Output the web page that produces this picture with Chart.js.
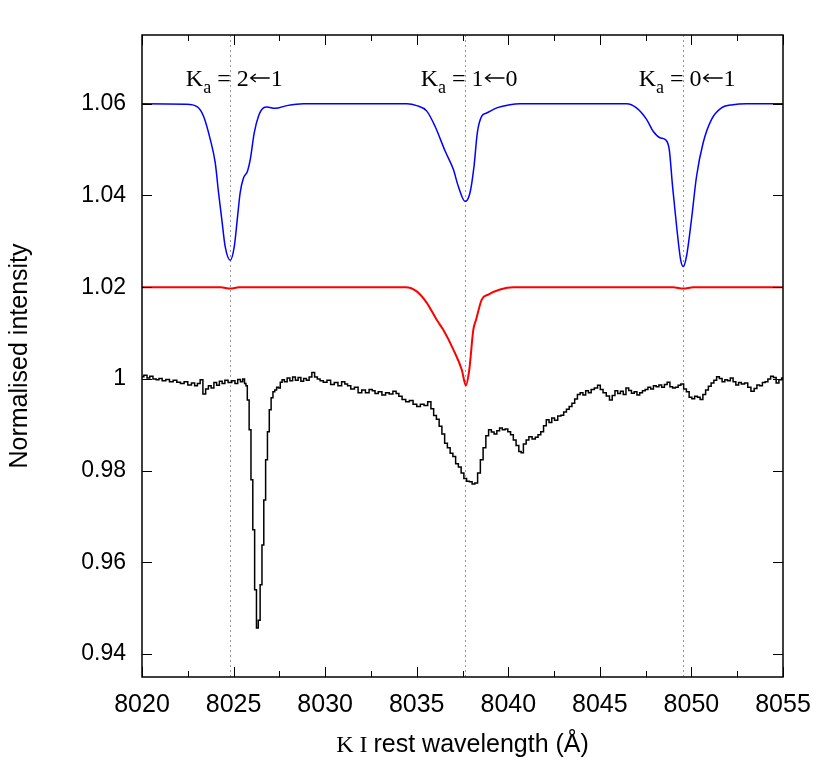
<!DOCTYPE html>
<html>
<head>
<meta charset="utf-8">
<script src="https://cdn.jsdelivr.net/npm/chart.js@4.4.1/dist/chart.umd.min.js"></script>
<style>
  html, body { margin: 0; padding: 0; background: #fff; }
</style>
</head>
<body>
<canvas id="kiChart" width="830" height="783"></canvas>
<script>
// tick positions
const xTicks = [8020, 8025, 8030, 8035, 8040, 8045, 8050, 8055];
const xMinorTicks = [8022.5, 8027.5, 8032.5, 8037.5, 8042.5, 8047.5, 8052.5];
const yTicks = [0.94, 0.96, 0.98, 1.00, 1.02, 1.04, 1.06];

// band centres (dotted lines) and their labels
const bandCentres = [8024.82, 8037.64, 8049.55];
const bandLabels = [['K', 'a', ' = 2', '1'], ['K', 'a', ' = 1', '0'], ['K', 'a', ' = 0', '1']];

// model, offset +0.06 (blue)
const blueWl = [8020, 8022.4, 8023.0, 8023.36, 8023.73, 8024.0, 8024.18, 8024.36, 8024.54, 8024.82,
  8025.04, 8025.22, 8025.36, 8025.54, 8025.76, 8025.91, 8026.13, 8026.36, 8026.63, 8026.82,
  8027.27, 8027.91, 8028.82, 8034.46, 8035.0, 8035.55, 8036.0, 8036.55, 8037.0, 8037.27,
  8037.64, 8037.91, 8038.13, 8038.31, 8038.55, 8038.82, 8039.37, 8040.09, 8040.64, 8046.46,
  8047.0, 8047.55, 8047.91, 8048.28, 8048.6, 8048.79, 8048.97, 8049.19, 8049.41, 8049.55,
  8049.73, 8050.0, 8050.28, 8050.64, 8051.1, 8051.64, 8052.27, 8053.0, 8055];
const blueI = [1.06, 1.0599, 1.0594, 1.0573, 1.0522, 1.0471, 1.0406, 1.0347, 1.0289, 1.0259,
  1.0289, 1.0355, 1.0406, 1.0438, 1.0453, 1.0478, 1.0537, 1.0573, 1.0591, 1.0593,
  1.0590, 1.0596, 1.06, 1.06, 1.0596, 1.0584, 1.0551, 1.0497, 1.0457, 1.0420,
  1.0387, 1.0406, 1.0464, 1.0537, 1.0573, 1.0580, 1.0591, 1.0598, 1.06, 1.06,
  1.0591, 1.0566, 1.0540, 1.0526, 1.0521, 1.0500, 1.0420, 1.0333, 1.0260, 1.0245,
  1.0267, 1.0347, 1.0442, 1.0515, 1.0566, 1.0591, 1.0598, 1.06, 1.06];

// model, offset +0.02 (red)
const redWl = [8020, 8024.3, 8024.82, 8025.3, 8034.4, 8035.0, 8035.55, 8036.09, 8036.45, 8037.0,
  8037.46, 8037.68, 8037.87, 8038.09, 8038.24, 8038.55, 8038.91, 8039.55, 8040.27, 8049.0,
  8049.55, 8050.1, 8055];
const redI = [1.02, 1.02, 1.0197, 1.02, 1.02, 1.0191, 1.0166, 1.0129, 1.0107, 1.0064,
  1.0020, 0.9986, 1.0020, 1.0107, 1.0129, 1.0173, 1.0184, 1.0195, 1.02, 1.02,
  1.0197, 1.02, 1.02];

// observed spectrum (black)
const obsWl = [8020.0, 8020.2, 8020.35, 8020.5, 8020.7, 8020.85, 8021.0, 8021.2, 8021.4, 8021.6,
  8021.8, 8022.0, 8022.2, 8022.4, 8022.6, 8022.8, 8022.95, 8023.1, 8023.25, 8023.4,
  8023.55, 8023.7, 8023.85, 8024.0, 8024.15, 8024.3, 8024.45, 8024.6, 8024.8, 8025.0,
  8025.15, 8025.3, 8025.45, 8025.55, 8025.65, 8025.7, 8025.8, 8025.9, 8026.0, 8026.1,
  8026.2, 8026.3, 8026.4, 8026.5, 8026.6, 8026.7, 8026.8, 8026.9, 8027.0, 8027.1,
  8027.2, 8027.3, 8027.4, 8027.5, 8027.6, 8027.7, 8027.85, 8028.0, 8028.15, 8028.3,
  8028.45, 8028.6, 8028.75, 8028.9, 8029.05, 8029.2, 8029.35, 8029.5, 8029.65, 8029.8,
  8030.0, 8030.2, 8030.4, 8030.6, 8030.8, 8031.0, 8031.15, 8031.3, 8031.5, 8031.7,
  8031.9, 8032.1, 8032.3, 8032.5, 8032.65, 8032.8, 8033.0, 8033.2, 8033.4, 8033.6,
  8033.8, 8033.95, 8034.1, 8034.3, 8034.5, 8034.7, 8034.9, 8035.1, 8035.3, 8035.5,
  8035.7, 8035.85, 8036.0, 8036.15, 8036.3, 8036.45, 8036.6, 8036.75, 8036.9, 8037.05,
  8037.2, 8037.35, 8037.5, 8037.65, 8037.8, 8037.95, 8038.1, 8038.25, 8038.4, 8038.55,
  8038.7, 8038.85, 8039.0, 8039.15, 8039.3, 8039.45, 8039.6, 8039.75, 8039.9, 8040.05,
  8040.2, 8040.35, 8040.5, 8040.65, 8040.75, 8040.9, 8041.05, 8041.2, 8041.4, 8041.55,
  8041.7, 8041.85, 8042.0, 8042.15, 8042.3, 8042.45, 8042.6, 8042.8, 8042.95, 8043.1,
  8043.25, 8043.4, 8043.55, 8043.7, 8043.85, 8044.0, 8044.15, 8044.3, 8044.45, 8044.6,
  8044.8, 8044.95, 8045.1, 8045.25, 8045.45, 8045.6, 8045.75, 8045.9, 8046.05, 8046.2,
  8046.35, 8046.5, 8046.65, 8046.8, 8046.95, 8047.1, 8047.25, 8047.4, 8047.55, 8047.7,
  8047.85, 8048.0, 8048.15, 8048.3, 8048.45, 8048.6, 8048.75, 8048.9, 8049.05, 8049.2,
  8049.35, 8049.5, 8049.65, 8049.8, 8049.95, 8050.1, 8050.25, 8050.4, 8050.55, 8050.7,
  8050.85, 8051.0, 8051.15, 8051.3, 8051.45, 8051.6, 8051.75, 8051.9, 8052.05, 8052.2,
  8052.35, 8052.5, 8052.65, 8052.8, 8053.0, 8053.15, 8053.35, 8053.5, 8053.65, 8053.8,
  8053.95, 8054.1, 8054.25, 8054.4, 8054.55, 8054.7, 8054.85, 8055.0];
const obsI = [1.0005, 1.0008, 1.0002, 1.0006, 1.0000, 0.9998, 1.0001, 0.9996, 0.9999, 0.9994,
  0.9997, 0.9993, 0.9990, 0.9994, 0.9987, 0.9991, 0.9985, 0.9990, 0.9998, 0.9967,
  0.9978, 0.9985, 0.9980, 0.9992, 0.9986, 0.9995, 0.9990, 0.9997, 0.9992, 0.9996,
  0.9990, 0.9999, 0.9994, 1.0000, 0.9990, 0.9985, 0.9954, 0.9889, 0.9780, 0.9671,
  0.9540, 0.9457, 0.9474, 0.9551, 0.9638, 0.9736, 0.9824, 0.9885, 0.9933, 0.9959,
  0.9972, 0.9976, 0.9982, 0.9980, 0.9993, 0.9998, 0.9994, 1.0002, 0.9996, 1.0004,
  0.9997, 1.0003, 0.9995, 1.0001, 0.9997, 1.0004, 1.0014, 1.0004, 1.0000, 0.9996,
  0.9993, 0.9997, 0.9988, 0.9992, 0.9985, 0.9994, 0.9989, 0.9985, 0.9978, 0.9982,
  0.9970, 0.9976, 0.9970, 0.9977, 0.9974, 0.9968, 0.9972, 0.9965, 0.9970, 0.9967,
  0.9973, 0.9968, 0.9962, 0.9955, 0.9950, 0.9953, 0.9945, 0.9940, 0.9945, 0.9942,
  0.9950, 0.9935, 0.9920, 0.9912, 0.9897, 0.9880, 0.9860, 0.9850, 0.9838, 0.9831,
  0.9815, 0.9808, 0.9795, 0.9783, 0.9777, 0.9776, 0.9771, 0.9773, 0.9795, 0.9824,
  0.9850, 0.9876, 0.9889, 0.9884, 0.9880, 0.9887, 0.9893, 0.9889, 0.9891, 0.9885,
  0.9878, 0.9867, 0.9855, 0.9842, 0.9839, 0.9858, 0.9867, 0.9874, 0.9869, 0.9873,
  0.9878, 0.9885, 0.9898, 0.9911, 0.9905, 0.9915, 0.9910, 0.9919, 0.9921, 0.9928,
  0.9934, 0.9940, 0.9947, 0.9956, 0.9966, 0.9970, 0.9965, 0.9974, 0.9970, 0.9977,
  0.9980, 0.9986, 0.9977, 0.9970, 0.9963, 0.9954, 0.9964, 0.9974, 0.9968, 0.9973,
  0.9966, 0.9980, 0.9975, 0.9969, 0.9972, 0.9965, 0.9970, 0.9974, 0.9977, 0.9982,
  0.9978, 0.9985, 0.9983, 0.9987, 0.9982, 0.9988, 0.9993, 0.9983, 0.9980, 0.9982,
  0.9986, 0.9989, 0.9978, 0.9972, 0.9960, 0.9957, 0.9962, 0.9960, 0.9955, 0.9966,
  0.9976, 0.9984, 0.9991, 0.9997, 1.0005, 1.0001, 0.9994, 0.9998, 0.9996, 1.0002,
  0.9994, 0.9987, 0.9992, 0.9989, 0.9991, 0.9982, 0.9973, 0.9979, 0.9987, 0.9985,
  0.9992, 0.9994, 1.0000, 1.0006, 1.0003, 0.9991, 0.9998, 1.0002];

function toPoints(xs, ys) {
  return xs.map((x, i) => ({ x: x, y: ys[i] }));
}

const sansFont = '"Liberation Sans", Arial, sans-serif';
const serifFont = '"Liberation Serif", "Times New Roman", serif';

// frame, inside ticks, dotted band lines, labels
const decorations = {
  id: 'decorations',
  beforeDatasetsDraw(chart) {
    const ctx = chart.ctx, a = chart.chartArea, xs = chart.scales.x;
    ctx.save();
    ctx.strokeStyle = '#999';
    ctx.lineWidth = 1;
    ctx.setLineDash([2, 3]);
    bandCentres.forEach(c => {
      const px = Math.round(xs.getPixelForValue(c)) + 0.5;
      ctx.beginPath();
      ctx.moveTo(px, a.top);
      ctx.lineTo(px, a.bottom);
      ctx.stroke();
    });
    ctx.restore();
  },
  afterDatasetsDraw(chart) {
    const ctx = chart.ctx, a = chart.chartArea;
    const xs = chart.scales.x, ys = chart.scales.y;
    ctx.save();
    ctx.strokeStyle = '#000';
    ctx.lineWidth = 1;
    ctx.beginPath();
    xTicks.forEach(v => {
      const px = Math.round(xs.getPixelForValue(v)) + 0.5;
      ctx.moveTo(px, a.bottom); ctx.lineTo(px, a.bottom - 10);
      ctx.moveTo(px, a.top); ctx.lineTo(px, a.top + 10);
    });
    xMinorTicks.forEach(v => {
      const px = Math.round(xs.getPixelForValue(v)) + 0.5;
      ctx.moveTo(px, a.bottom); ctx.lineTo(px, a.bottom - 6);
      ctx.moveTo(px, a.top); ctx.lineTo(px, a.top + 6);
    });
    yTicks.forEach(v => {
      const py = Math.round(ys.getPixelForValue(v)) + 0.5;
      ctx.moveTo(a.left, py); ctx.lineTo(a.left + 10, py);
      ctx.moveTo(a.right, py); ctx.lineTo(a.right - 10, py);
    });
    ctx.stroke();
    ctx.lineWidth = 1.5;
    ctx.strokeRect(a.left, a.top, a.right - a.left, a.bottom - a.top);

    // band labels: K, subscript a, "= n", long arrow, "m"
    ctx.fillStyle = '#000';
    ctx.textBaseline = 'alphabetic';
    const arrowW = 20;
    bandCentres.forEach((c, i) => {
      const parts = bandLabels[i];
      ctx.font = '24px ' + serifFont;
      const w0 = ctx.measureText(parts[0]).width;
      const w2 = ctx.measureText(parts[2]).width;
      const w3 = ctx.measureText(parts[3]).width;
      ctx.font = '18px ' + serifFont;
      const w1 = ctx.measureText(parts[1]).width;
      const total = w0 + w1 + w2 + arrowW + 2 + w3;
      let x = xs.getPixelForValue(c) - total / 2 + 4;
      const base = 86;
      ctx.font = '24px ' + serifFont;
      ctx.fillText(parts[0], x, base);
      x += w0;
      ctx.font = '18px ' + serifFont;
      ctx.fillText(parts[1], x, base + 7);
      x += w1;
      ctx.font = '24px ' + serifFont;
      ctx.fillText(parts[2], x, base);
      x += w2 + 1;
      // arrow
      const ay = base - 8;
      ctx.lineWidth = 1.3;
      ctx.beginPath();
      ctx.moveTo(x + 1, ay); ctx.lineTo(x + arrowW, ay);
      ctx.moveTo(x + 6, ay - 4); ctx.lineTo(x + 1, ay); ctx.lineTo(x + 6, ay + 4);
      ctx.stroke();
      x += arrowW + 1;
      ctx.fillText(parts[3], x, base);
    });

    // axis titles
    ctx.save();
    ctx.translate(27, (a.top + a.bottom) / 2);
    ctx.rotate(-Math.PI / 2);
    ctx.textAlign = 'center';
    ctx.font = '25px ' + sansFont;
    ctx.fillText('Normalised intensity', 0, 0);
    ctx.restore();

    ctx.font = '24px ' + serifFont;
    const t1 = 'K I ';
    const w1 = ctx.measureText(t1).width;
    ctx.font = '25px ' + sansFont;
    const t2 = 'rest wavelength (\u00C5)';
    const w2 = ctx.measureText(t2).width;
    const tx = (a.left + a.right) / 2 - (w1 + w2) / 2;
    ctx.font = '24px ' + serifFont;
    ctx.fillText(t1, tx, 752);
    ctx.font = '25px ' + sansFont;
    ctx.fillText(t2, tx + w1, 752);
    ctx.restore();
  }
};

const chart = new Chart(document.getElementById('kiChart').getContext('2d'), {
  type: 'line',
  data: {
    datasets: [
      {
        label: 'observed',
        data: toPoints(obsWl, obsI),
        borderColor: '#000',
        borderWidth: 1.5,
        pointRadius: 0,
        stepped: 'middle',
        fill: false
      }, {
        label: 'model +0.02',
        data: toPoints(redWl, redI),
        borderColor: '#ff0000',
        borderWidth: 2,
        pointRadius: 0,
        cubicInterpolationMode: 'monotone',
        fill: false
      }, {
        label: 'model +0.06',
        data: toPoints(blueWl, blueI),
        borderColor: '#0000ff',
        borderWidth: 1.5,
        pointRadius: 0,
        cubicInterpolationMode: 'monotone',
        fill: false
      }]
  },
  options: {
    responsive: false,
    animation: false,
    layout: { padding: { left: 0, right: 47, top: 35, bottom: 0 } },
    plugins: { legend: { display: false }, tooltip: { enabled: false } },
    scales: {
      x: {
        type: 'linear',
        min: 8020,
        max: 8055,
        afterBuildTicks: s => { s.ticks = xTicks.map(v => ({ value: v })); },
        afterFit: s => { s.height = 106; },
        grid: { display: false },
        border: { display: false },
        ticks: {
          padding: 5,
          maxRotation: 0,
          color: '#000',
          font: { family: sansFont, size: 25 },
          callback: v => String(v)
        }
      },
      y: {
        type: 'linear',
        min: 0.935,
        max: 1.075,
        afterBuildTicks: s => { s.ticks = yTicks.map(v => ({ value: v })); },
        afterFit: s => { s.width = 142; },
        grid: { display: false },
        border: { display: false },
        ticks: {
          padding: 8,
          color: '#000',
          font: { family: sansFont, size: 23 },
          callback: v => String(+v.toFixed(2))
        }
      }
    }
  },
  plugins: [decorations]
});
</script>
</body>
</html>
